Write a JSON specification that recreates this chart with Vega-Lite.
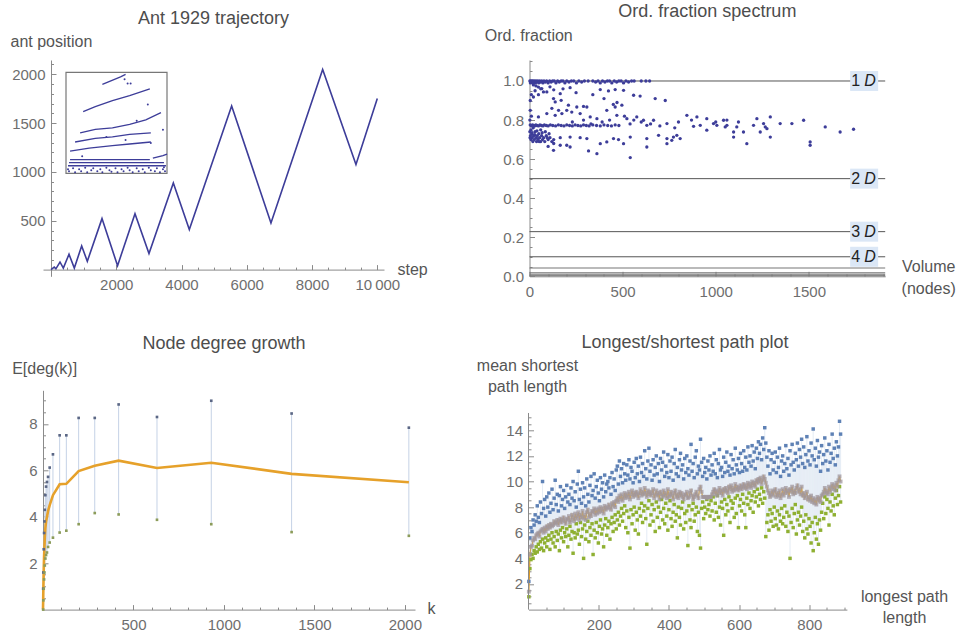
{
  "$schema": "https://vega.github.io/schema/vega-lite/v6.json",
  "background": "white",
  "padding": {"left": 10, "top": 3, "right": 5, "bottom": 5},
  "bounds": "flush",
  "spacing": 330.3,
  "datasets": {
    "ant": [
      {"step": 0, "pos": 0}, {"step": 100, "pos": 25}, {"step": 150, "pos": 8}, {"step": 276, "pos": 78},
      {"step": 378, "pos": 16}, {"step": 552, "pos": 157}, {"step": 715, "pos": 16}, {"step": 940, "pos": 242},
      {"step": 1113, "pos": 85}, {"step": 1563, "pos": 522}, {"step": 2040, "pos": 40}, {"step": 2574, "pos": 573},
      {"step": 3003, "pos": 164}, {"step": 3749, "pos": 887}, {"step": 4239, "pos": 410}, {"step": 5536, "pos": 1676},
      {"step": 6741, "pos": 478}, {"step": 8325, "pos": 2048}, {"step": 9346, "pos": 1075}, {"step": 10000, "pos": 1751}
    ],
    "insetLines": [
      {"seg": "a", "ix": 36, "iy": 88}, {"seg": "a", "ix": 42, "iy": 90.5}, {"seg": "a", "ix": 48, "iy": 93}, {"seg": "a", "ix": 54, "iy": 95.5}, {"seg": "a", "ix": 59, "iy": 98},
      {"seg": "b", "ix": 17, "iy": 61}, {"seg": "b", "ix": 29, "iy": 66}, {"seg": "b", "ix": 46, "iy": 72}, {"seg": "b", "ix": 63, "iy": 77}, {"seg": "b", "ix": 83, "iy": 83.5},
      {"seg": "c", "ix": 14, "iy": 40}, {"seg": "c", "ix": 29, "iy": 43.5}, {"seg": "c", "ix": 46, "iy": 45}, {"seg": "c", "ix": 63, "iy": 48.5}, {"seg": "c", "ix": 79, "iy": 53}, {"seg": "c", "ix": 94, "iy": 60},
      {"seg": "d", "ix": 9, "iy": 31}, {"seg": "d", "ix": 29, "iy": 34.5}, {"seg": "d", "ix": 46, "iy": 36}, {"seg": "d", "ix": 63, "iy": 38.5}, {"seg": "d", "ix": 84, "iy": 40},
      {"seg": "e", "ix": 4, "iy": 22}, {"seg": "e", "ix": 23, "iy": 25}, {"seg": "e", "ix": 46, "iy": 27.5}, {"seg": "e", "ix": 63, "iy": 29}, {"seg": "e", "ix": 84, "iy": 31},
      {"seg": "f", "ix": 86, "iy": 15}, {"seg": "f", "ix": 96, "iy": 17.5}, {"seg": "f", "ix": 100, "iy": 19},
      {"seg": "g", "ix": 4, "iy": 13.5}, {"seg": "g", "ix": 83, "iy": 13.5},
      {"seg": "h", "ix": 3, "iy": 10.5}, {"seg": "h", "ix": 97, "iy": 10.5},
      {"seg": "i", "ix": 2, "iy": 7.5}, {"seg": "i", "ix": 99, "iy": 7.5}
    ],
    "insetDots": [
      {"ix": 58, "iy": 93}, {"ix": 61, "iy": 89}, {"ix": 64, "iy": 89}, {"ix": 81, "iy": 68}, {"ix": 59, "iy": 33},
      {"ix": 84, "iy": 30}, {"ix": 16, "iy": 17}, {"ix": 96, "iy": 43}, {"ix": 70, "iy": 52}, {"ix": 40, "iy": 36},
      {"ix": 3, "iy": 2}, {"ix": 7, "iy": 5}, {"ix": 9, "iy": 1}, {"ix": 13, "iy": 4}, {"ix": 15, "iy": 2},
      {"ix": 19, "iy": 5.5}, {"ix": 21, "iy": 1}, {"ix": 25, "iy": 3}, {"ix": 27, "iy": 5}, {"ix": 31, "iy": 2},
      {"ix": 34, "iy": 4}, {"ix": 36, "iy": 1}, {"ix": 40, "iy": 5.5}, {"ix": 43, "iy": 3}, {"ix": 45, "iy": 1.5},
      {"ix": 49, "iy": 5}, {"ix": 51, "iy": 1}, {"ix": 55, "iy": 4}, {"ix": 57, "iy": 2}, {"ix": 61, "iy": 5.5},
      {"ix": 63, "iy": 3}, {"ix": 66, "iy": 1}, {"ix": 70, "iy": 5}, {"ix": 72, "iy": 2}, {"ix": 76, "iy": 4},
      {"ix": 78, "iy": 1}, {"ix": 82, "iy": 5.5}, {"ix": 84, "iy": 3}, {"ix": 88, "iy": 2}, {"ix": 90, "iy": 5},
      {"ix": 93, "iy": 1}, {"ix": 96, "iy": 4}, {"ix": 98, "iy": 2}, {"ix": 2, "iy": 4}, {"ix": 97, "iy": 6}
    ],
    "dims": [
      {"f": 1, "n": "1"}, {"f": 0.5, "n": "2"}, {"f": 0.2286, "n": "3"}, {"f": 0.1, "n": "4"}
    ],
    "dimsLow": [
      {"f": 0.0426}, {"f": 0.0179}, {"f": 0.0074}, {"f": 0.0029}
    ],
    "ord": [
      {"v": 2, "f": 1}, {"v": 5, "f": 0.99}, {"v": 8, "f": 1}, {"v": 11, "f": 0.995}, {"v": 14, "f": 1}, {"v": 17, "f": 0.99},
      {"v": 20, "f": 1}, {"v": 24, "f": 0.995}, {"v": 28, "f": 1}, {"v": 32, "f": 0.99}, {"v": 36, "f": 1}, {"v": 40, "f": 0.995},
      {"v": 45, "f": 1}, {"v": 50, "f": 0.99}, {"v": 55, "f": 1}, {"v": 60, "f": 0.995}, {"v": 66, "f": 1}, {"v": 72, "f": 0.99},
      {"v": 78, "f": 1}, {"v": 85, "f": 0.995}, {"v": 92, "f": 1}, {"v": 100, "f": 0.99}, {"v": 108, "f": 1}, {"v": 116, "f": 0.995},
      {"v": 124, "f": 1}, {"v": 133, "f": 1}, {"v": 142, "f": 0.99}, {"v": 151, "f": 1}, {"v": 160, "f": 0.995}, {"v": 170, "f": 1},
      {"v": 180, "f": 1}, {"v": 190, "f": 0.99}, {"v": 200, "f": 1}, {"v": 212, "f": 0.995}, {"v": 225, "f": 1}, {"v": 238, "f": 1},
      {"v": 252, "f": 0.99}, {"v": 265, "f": 1}, {"v": 280, "f": 0.995}, {"v": 295, "f": 1}, {"v": 315, "f": 1}, {"v": 340, "f": 1},
      {"v": 355, "f": 0.995}, {"v": 368, "f": 1}, {"v": 380, "f": 0.99}, {"v": 392, "f": 1}, {"v": 405, "f": 0.995}, {"v": 418, "f": 1},
      {"v": 430, "f": 1}, {"v": 442, "f": 0.99}, {"v": 455, "f": 1}, {"v": 468, "f": 0.995}, {"v": 480, "f": 1}, {"v": 492, "f": 1},
      {"v": 505, "f": 0.99}, {"v": 518, "f": 1}, {"v": 532, "f": 0.995}, {"v": 548, "f": 1}, {"v": 562, "f": 1}, {"v": 600, "f": 1},
      {"v": 625, "f": 1}, {"v": 645, "f": 1},
      {"v": 21, "f": 0.98}, {"v": 35, "f": 0.975}, {"v": 48, "f": 0.969}, {"v": 66, "f": 0.961}, {"v": 93, "f": 0.944}, {"v": 30, "f": 0.95},
      {"v": 10, "f": 0.93}, {"v": 4, "f": 0.9}, {"v": 21, "f": 0.918}, {"v": 48, "f": 0.93}, {"v": 218, "f": 0.966}, {"v": 380, "f": 0.956},
      {"v": 424, "f": 0.949}, {"v": 460, "f": 0.956}, {"v": 505, "f": 0.952}, {"v": 165, "f": 0.935}, {"v": 75, "f": 0.944}, {"v": 559, "f": 0.927},
      {"v": 594, "f": 0.923}, {"v": 675, "f": 0.91}, {"v": 729, "f": 0.9}, {"v": 129, "f": 0.91}, {"v": 138, "f": 0.893}, {"v": 170, "f": 0.901},
      {"v": 209, "f": 0.876}, {"v": 156, "f": 0.85}, {"v": 254, "f": 0.867}, {"v": 290, "f": 0.87}, {"v": 308, "f": 0.867}, {"v": 4, "f": 0.85},
      {"v": 2, "f": 0.8}, {"v": 10, "f": 0.82}, {"v": 60, "f": 0.96}, {"v": 110, "f": 0.97}, {"v": 130, "f": 0.955}, {"v": 180, "f": 0.96},
      {"v": 250, "f": 0.94}, {"v": 340, "f": 0.93}, {"v": 400, "f": 0.91}, {"v": 450, "f": 0.88}, {"v": 470, "f": 0.89},
      {"v": 48, "f": 0.816}, {"v": 93, "f": 0.833}, {"v": 138, "f": 0.824}, {"v": 174, "f": 0.833}, {"v": 227, "f": 0.841}, {"v": 272, "f": 0.833},
      {"v": 326, "f": 0.816}, {"v": 362, "f": 0.807}, {"v": 415, "f": 0.85}, {"v": 460, "f": 0.867}, {"v": 496, "f": 0.876}, {"v": 469, "f": 0.824},
      {"v": 523, "f": 0.807}, {"v": 576, "f": 0.816}, {"v": 612, "f": 0.799}, {"v": 630, "f": 0.773}, {"v": 666, "f": 0.799}, {"v": 738, "f": 0.782},
      {"v": 845, "f": 0.824}, {"v": 899, "f": 0.816}, {"v": 952, "f": 0.807}, {"v": 988, "f": 0.782}, {"v": 1042, "f": 0.799}, {"v": 1060, "f": 0.773},
      {"v": 1113, "f": 0.765}, {"v": 1122, "f": 0.79}, {"v": 1221, "f": 0.807}, {"v": 1257, "f": 0.782}, {"v": 1275, "f": 0.756}, {"v": 1293, "f": 0.816},
      {"v": 1346, "f": 0.782}, {"v": 1409, "f": 0.782}, {"v": 1472, "f": 0.799}, {"v": 1588, "f": 0.765}, {"v": 1668, "f": 0.739}, {"v": 1740, "f": 0.753},
      {"v": 881, "f": 0.768}, {"v": 917, "f": 0.773}, {"v": 952, "f": 0.748}, {"v": 1006, "f": 0.773}, {"v": 1051, "f": 0.765}, {"v": 1096, "f": 0.739},
      {"v": 1149, "f": 0.739}, {"v": 1203, "f": 0.773}, {"v": 1239, "f": 0.739}, {"v": 1266, "f": 0.765}, {"v": 1060, "f": 0.8}, {"v": 1000, "f": 0.79},
      {"v": 870, "f": 0.8}, {"v": 800, "f": 0.79}, {"v": 780, "f": 0.76}, {"v": 700, "f": 0.77}, {"v": 560, "f": 0.8}, {"v": 540, "f": 0.78},
      {"v": 600, "f": 0.79}, {"v": 650, "f": 0.78}, {"v": 120, "f": 0.86}, {"v": 200, "f": 0.85}, {"v": 290, "f": 0.8}, {"v": 390, "f": 0.79},
      {"v": 430, "f": 0.8}, {"v": 510, "f": 0.82}, {"v": 230, "f": 0.79}, {"v": 330, "f": 0.78},
      {"v": 4, "f": 0.775}, {"v": 10, "f": 0.77}, {"v": 16, "f": 0.775}, {"v": 22, "f": 0.772}, {"v": 28, "f": 0.77}, {"v": 34, "f": 0.775},
      {"v": 40, "f": 0.772}, {"v": 48, "f": 0.77}, {"v": 56, "f": 0.775}, {"v": 64, "f": 0.772}, {"v": 72, "f": 0.77}, {"v": 80, "f": 0.775},
      {"v": 90, "f": 0.772}, {"v": 100, "f": 0.77}, {"v": 112, "f": 0.775}, {"v": 125, "f": 0.772}, {"v": 140, "f": 0.77}, {"v": 155, "f": 0.775},
      {"v": 170, "f": 0.772}, {"v": 185, "f": 0.77}, {"v": 200, "f": 0.775}, {"v": 215, "f": 0.772}, {"v": 230, "f": 0.77}, {"v": 245, "f": 0.775},
      {"v": 260, "f": 0.772}, {"v": 275, "f": 0.77}, {"v": 290, "f": 0.775}, {"v": 305, "f": 0.772}, {"v": 320, "f": 0.77}, {"v": 340, "f": 0.775},
      {"v": 360, "f": 0.772}, {"v": 380, "f": 0.77}, {"v": 400, "f": 0.775}, {"v": 420, "f": 0.772}, {"v": 440, "f": 0.77}, {"v": 460, "f": 0.775},
      {"v": 480, "f": 0.772},
      {"v": 2, "f": 0.74}, {"v": 5, "f": 0.72}, {"v": 8, "f": 0.7}, {"v": 12, "f": 0.73}, {"v": 15, "f": 0.71}, {"v": 18, "f": 0.69},
      {"v": 22, "f": 0.72}, {"v": 26, "f": 0.7}, {"v": 30, "f": 0.74}, {"v": 34, "f": 0.71}, {"v": 38, "f": 0.69}, {"v": 42, "f": 0.72},
      {"v": 46, "f": 0.7}, {"v": 50, "f": 0.73}, {"v": 55, "f": 0.71}, {"v": 60, "f": 0.69}, {"v": 65, "f": 0.72}, {"v": 70, "f": 0.7},
      {"v": 76, "f": 0.71}, {"v": 82, "f": 0.69}, {"v": 90, "f": 0.72}, {"v": 100, "f": 0.7}, {"v": 110, "f": 0.71}, {"v": 120, "f": 0.69},
      {"v": 130, "f": 0.7}, {"v": 8, "f": 0.75}, {"v": 20, "f": 0.76}, {"v": 40, "f": 0.745}, {"v": 60, "f": 0.75}, {"v": 85, "f": 0.74},
      {"v": 3, "f": 0.71}, {"v": 14, "f": 0.735}, {"v": 28, "f": 0.725}, {"v": 44, "f": 0.705}, {"v": 52, "f": 0.69}, {"v": 68, "f": 0.735},
      {"v": 95, "f": 0.71}, {"v": 105, "f": 0.73},
      {"v": 165, "f": 0.71}, {"v": 218, "f": 0.713}, {"v": 272, "f": 0.71}, {"v": 308, "f": 0.705}, {"v": 380, "f": 0.679}, {"v": 415, "f": 0.688},
      {"v": 451, "f": 0.705}, {"v": 478, "f": 0.7}, {"v": 505, "f": 0.679}, {"v": 541, "f": 0.713}, {"v": 630, "f": 0.705}, {"v": 693, "f": 0.722},
      {"v": 738, "f": 0.705}, {"v": 773, "f": 0.713}, {"v": 809, "f": 0.705}, {"v": 1096, "f": 0.713}, {"v": 1167, "f": 0.679}, {"v": 1293, "f": 0.713},
      {"v": 1507, "f": 0.688}, {"v": 1507, "f": 0.671},
      {"v": 129, "f": 0.645}, {"v": 165, "f": 0.671}, {"v": 200, "f": 0.671}, {"v": 218, "f": 0.662}, {"v": 317, "f": 0.642}, {"v": 362, "f": 0.628},
      {"v": 541, "f": 0.608}, {"v": 630, "f": 0.662}, {"v": 738, "f": 0.679}, {"v": 764, "f": 0.696}, {"v": 791, "f": 0.722}, {"v": 130, "f": 0.68},
      {"v": 100, "f": 0.665}
    ],
    "deg": [
      {"k": 0, "mean": 0},
      {"k": 1, "hi": 0.9, "lo": 0, "mean": 0.4},
      {"k": 2, "hi": 1.6, "lo": 0.4, "mean": 0.9},
      {"k": 4, "hi": 2.6, "lo": 0.9, "mean": 1.7},
      {"k": 6, "hi": 3.3, "lo": 1.3, "mean": 2.3},
      {"k": 8, "hi": 3.8, "lo": 1.6, "mean": 2.7},
      {"k": 10, "hi": 4.3, "lo": 1.9, "mean": 3.1},
      {"k": 13, "hi": 4.93, "lo": 2.2, "mean": 3.5},
      {"k": 17, "hi": 5.3, "lo": 2.35, "mean": 3.8},
      {"k": 22, "hi": 5.5, "lo": 2.46, "mean": 4.0},
      {"k": 28, "hi": 5.72, "lo": 2.7, "mean": 4.25},
      {"k": 37, "hi": 6.12, "lo": 2.89, "mean": 4.5},
      {"k": 55, "hi": 6.69, "lo": 3.1, "mean": 4.93},
      {"k": 92, "hi": 7.51, "lo": 3.32, "mean": 5.4},
      {"k": 129, "hi": 7.51, "lo": 3.4, "mean": 5.42},
      {"k": 197, "hi": 8.26, "lo": 3.68, "mean": 5.97},
      {"k": 286, "hi": 8.26, "lo": 4.16, "mean": 6.2},
      {"k": 418, "hi": 8.84, "lo": 4.1, "mean": 6.42},
      {"k": 630, "hi": 8.3, "lo": 3.87, "mean": 6.1},
      {"k": 930, "hi": 9.0, "lo": 3.68, "mean": 6.33},
      {"k": 1374, "hi": 8.45, "lo": 3.34, "mean": 5.85},
      {"k": 2022, "hi": 7.84, "lo": 3.18, "mean": 5.49}
    ],
    "paths": [
      {"L":1,"h":2.2,"m":1.4,"l":1.0},{"L":4,"h":5.6,"m":4.3,"l":3.2},{"L":7,"h":6.4,"m":4.9,"l":3.9},{"L":10,"h":6.1,"m":5.0,"l":4.3},
      {"L":13,"h":7.0,"m":5.4,"l":4.0},{"L":16,"h":6.6,"m":5.6,"l":4.6},{"L":19,"h":7.4,"m":5.5,"l":4.4},{"L":22,"h":6.9,"m":5.8,"l":4.9},
      {"L":25,"h":8.1,"m":5.9,"l":4.5},{"L":28,"h":7.2,"m":6.0,"l":5.1},{"L":31,"h":6.8,"m":5.7,"l":4.7},{"L":34,"h":8.4,"m":6.1,"l":5.3},
      {"L":37,"h":7.5,"m":6.2,"l":4.8},{"L":40,"h":10.0,"m":6.3,"l":5.5},{"L":43,"h":7.9,"m":6.0,"l":4.6},{"L":46,"h":8.6,"m":6.4,"l":5.2},
      {"L":49,"h":7.3,"m":6.1,"l":5.6},{"L":52,"h":8.8,"m":6.5,"l":4.9},{"L":55,"h":8.0,"m":6.3,"l":5.4},{"L":58,"h":9.1,"m":6.6,"l":5.8},
      {"L":61,"h":7.6,"m":6.4,"l":4.7},{"L":64,"h":8.3,"m":6.7,"l":5.5},{"L":67,"h":9.4,"m":6.5,"l":6.0},{"L":70,"h":7.8,"m":6.6,"l":5.2},
      {"L":73,"h":8.7,"m":6.9,"l":5.7},{"L":76,"h":10.1,"m":6.7,"l":4.9},{"L":79,"h":8.2,"m":6.8,"l":6.1},{"L":82,"h":9.0,"m":7.0,"l":5.4},
      {"L":85,"h":7.7,"m":6.6,"l":5.9},{"L":88,"h":8.9,"m":6.9,"l":4.6},{"L":91,"h":9.6,"m":7.1,"l":6.2},{"L":94,"h":8.1,"m":6.8,"l":5.6},
      {"L":97,"h":8.6,"m":7.0,"l":6.4},{"L":100,"h":9.3,"m":7.2,"l":5.3},{"L":103,"h":7.9,"m":6.9,"l":6.0},{"L":106,"h":8.8,"m":6.7,"l":5.7},
      {"L":109,"h":9.7,"m":7.1,"l":6.3},{"L":112,"h":8.4,"m":7.0,"l":4.9},{"L":115,"h":9.0,"m":7.3,"l":5.8},{"L":118,"h":8.2,"m":6.8,"l":6.5},
      {"L":121,"h":9.5,"m":7.0,"l":5.5},{"L":124,"h":8.7,"m":7.4,"l":6.1},{"L":127,"h":10.0,"m":7.2,"l":4.4},{"L":130,"h":8.5,"m":6.9,"l":6.0},
      {"L":133,"h":9.2,"m":7.5,"l":5.6},{"L":136,"h":8.0,"m":7.1,"l":6.7},{"L":139,"h":9.8,"m":7.3,"l":5.9},{"L":142,"h":10.8,"m":7.6,"l":6.2},
      {"L":145,"h":8.6,"m":7.0,"l":5.1},{"L":148,"h":9.4,"m":7.4,"l":6.8},{"L":151,"h":8.3,"m":7.2,"l":5.7},{"L":154,"h":9.9,"m":7.7,"l":6.3},
      {"L":157,"h":8.8,"m":7.1,"l":4.0},{"L":160,"h":9.5,"m":7.4,"l":6.6},{"L":163,"h":8.1,"m":7.0,"l":5.5},{"L":166,"h":10.2,"m":7.6,"l":6.1},
      {"L":169,"h":9.0,"m":7.8,"l":6.9},{"L":172,"h":8.4,"m":7.2,"l":5.3},{"L":175,"h":9.7,"m":7.5,"l":6.4},{"L":178,"h":10.4,"m":7.3,"l":5.8},
      {"L":181,"h":8.9,"m":7.7,"l":6.7},{"L":184,"h":9.3,"m":7.6,"l":4.3},{"L":187,"h":10.6,"m":7.9,"l":6.2},{"L":190,"h":8.7,"m":7.4,"l":5.6},
      {"L":193,"h":9.6,"m":7.8,"l":6.8},{"L":196,"h":10.1,"m":7.5,"l":6.0},{"L":199,"h":9.1,"m":7.9,"l":5.2},{"L":202,"h":8.5,"m":7.6,"l":6.5},
      {"L":205,"h":10.3,"m":8.0,"l":7.0},{"L":208,"h":9.4,"m":7.7,"l":5.9},{"L":211,"h":9.9,"m":7.9,"l":6.3},{"L":214,"h":8.8,"m":7.5,"l":4.9},
      {"L":217,"h":10.5,"m":8.1,"l":6.6},{"L":220,"h":9.2,"m":7.8,"l":7.1},{"L":223,"h":9.8,"m":8.0,"l":5.8},{"L":226,"h":10.0,"m":7.9,"l":6.4},
      {"L":229,"h":9.5,"m":8.2,"l":6.9},{"L":232,"h":10.3,"m":8.0,"l":5.5},{"L":235,"h":9.0,"m":7.8,"l":6.7},{"L":238,"h":10.7,"m":8.3,"l":7.2},
      {"L":241,"h":9.6,"m":8.1,"l":6.1},{"L":244,"h":10.2,"m":8.4,"l":6.8},{"L":247,"h":9.3,"m":8.0,"l":7.4},{"L":250,"h":10.9,"m":8.5,"l":6.3},
      {"L":253,"h":11.2,"m":8.7,"l":7.0},{"L":256,"h":9.8,"m":8.4,"l":7.6},{"L":259,"h":11.6,"m":8.9,"l":6.6},{"L":262,"h":10.4,"m":8.6,"l":7.3},
      {"L":265,"h":11.0,"m":9.0,"l":7.9},{"L":268,"h":9.9,"m":8.5,"l":6.9},{"L":271,"h":11.4,"m":8.8,"l":7.5},{"L":274,"h":10.6,"m":9.1,"l":8.1},
      {"L":277,"h":10.1,"m":8.7,"l":6.4},{"L":280,"h":11.3,"m":9.0,"l":7.7},{"L":283,"h":10.5,"m":8.8,"l":6.0},{"L":286,"h":11.7,"m":9.2,"l":7.2},
      {"L":289,"h":10.2,"m":8.6,"l":4.8},{"L":292,"h":11.1,"m":9.0,"l":7.8},{"L":295,"h":10.8,"m":9.3,"l":6.7},{"L":298,"h":9.9,"m":8.8,"l":7.4},
      {"L":301,"h":11.5,"m":9.1,"l":8.0},{"L":304,"h":10.3,"m":8.9,"l":6.2},{"L":307,"h":11.8,"m":9.2,"l":7.6},{"L":310,"h":10.6,"m":9.0,"l":7.0},
      {"L":313,"h":11.2,"m":8.7,"l":5.9},{"L":316,"h":10.0,"m":9.1,"l":7.9},{"L":319,"h":11.9,"m":9.4,"l":7.3},{"L":322,"h":10.7,"m":8.9,"l":8.3},
      {"L":325,"h":11.4,"m":9.2,"l":6.8},{"L":328,"h":10.4,"m":9.0,"l":7.7},{"L":331,"h":12.4,"m":9.5,"l":8.1},{"L":334,"h":11.0,"m":9.1,"l":7.1},
      {"L":337,"h":10.2,"m":8.8,"l":5.1},{"L":340,"h":11.6,"m":9.3,"l":7.9},{"L":343,"h":12.6,"m":9.0,"l":8.5},{"L":346,"h":10.8,"m":9.2,"l":6.6},
      {"L":349,"h":11.3,"m":8.9,"l":7.4},{"L":352,"h":10.1,"m":9.1,"l":8.2},{"L":355,"h":11.7,"m":9.4,"l":6.9},{"L":358,"h":10.5,"m":8.7,"l":7.8},
      {"L":361,"h":11.1,"m":9.0,"l":6.1},{"L":364,"h":12.0,"m":9.3,"l":8.4},{"L":367,"h":10.6,"m":8.9,"l":7.2},{"L":370,"h":11.4,"m":9.1,"l":8.0},
      {"L":373,"h":10.0,"m":8.6,"l":6.4},{"L":376,"h":11.8,"m":9.2,"l":7.6},{"L":379,"h":10.9,"m":9.0,"l":8.6},{"L":382,"h":11.5,"m":8.8,"l":7.0},
      {"L":385,"h":12.3,"m":9.3,"l":7.9},{"L":388,"h":10.4,"m":8.9,"l":6.7},{"L":391,"h":11.2,"m":9.1,"l":8.3},{"L":394,"h":10.7,"m":8.7,"l":7.3},
      {"L":397,"h":12.1,"m":9.4,"l":6.2},{"L":400,"h":10.3,"m":8.8,"l":7.8},{"L":403,"h":11.6,"m":9.0,"l":8.5},{"L":406,"h":10.8,"m":9.2,"l":7.1},
      {"L":409,"h":11.9,"m":8.9,"l":6.5},{"L":412,"h":10.1,"m":8.6,"l":7.6},{"L":415,"h":11.4,"m":9.1,"l":8.2},{"L":418,"h":12.5,"m":9.3,"l":6.9},
      {"L":421,"h":10.6,"m":8.8,"l":7.4},{"L":424,"h":11.1,"m":9.0,"l":5.6},{"L":427,"h":10.4,"m":8.7,"l":8.0},{"L":430,"h":11.7,"m":9.2,"l":7.2},
      {"L":433,"h":12.2,"m":8.9,"l":6.6},{"L":436,"h":10.9,"m":9.1,"l":7.9},{"L":439,"h":11.3,"m":8.8,"l":8.4},{"L":442,"h":10.2,"m":8.6,"l":6.3},
      {"L":445,"h":11.8,"m":9.0,"l":7.5},{"L":448,"h":10.7,"m":8.9,"l":6.8},{"L":451,"h":12.0,"m":9.2,"l":7.7},{"L":454,"h":11.0,"m":8.7,"l":5.0},
      {"L":457,"h":10.5,"m":8.8,"l":8.1},{"L":460,"h":11.6,"m":9.1,"l":7.0},{"L":463,"h":12.9,"m":9.3,"l":6.4},{"L":466,"h":10.8,"m":8.9,"l":7.8},
      {"L":469,"h":11.4,"m":8.6,"l":8.3},{"L":472,"h":10.3,"m":8.8,"l":6.9},{"L":475,"h":11.9,"m":9.0,"l":7.4},{"L":478,"h":12.4,"m":9.2,"l":8.0},
      {"L":481,"h":10.6,"m":8.9,"l":6.1},{"L":484,"h":11.2,"m":8.7,"l":7.6},{"L":487,"h":10.9,"m":9.4,"l":5.8},{"L":490,"h":13.3,"m":9.6,"l":4.8},
      {"L":493,"h":11.5,"m":9.2,"l":7.9},{"L":496,"h":10.4,"m":8.8,"l":8.4},{"L":499,"h":11.8,"m":8.8,"l":7.1},{"L":502,"h":10.7,"m":8.8,"l":8.0},
      {"L":505,"h":11.1,"m":8.8,"l":7.5},{"L":508,"h":10.2,"m":8.7,"l":8.6},{"L":511,"h":11.6,"m":8.8,"l":7.8},{"L":514,"h":10.9,"m":8.8,"l":8.2},
      {"L":517,"h":12.0,"m":8.8,"l":7.3},{"L":520,"h":10.5,"m":8.8,"l":8.5},{"L":523,"h":11.3,"m":9.0,"l":7.7},{"L":526,"h":10.8,"m":9.2,"l":8.8},
      {"L":529,"h":12.2,"m":9.4,"l":7.0},{"L":532,"h":10.6,"m":9.0,"l":8.3},{"L":535,"h":11.7,"m":9.3,"l":7.6},{"L":538,"h":10.3,"m":8.9,"l":8.9},
      {"L":541,"h":11.4,"m":9.2,"l":7.2},{"L":544,"h":12.5,"m":9.5,"l":8.0},{"L":547,"h":10.9,"m":9.1,"l":6.6},{"L":550,"h":11.1,"m":9.3,"l":8.4},
      {"L":553,"h":10.4,"m":8.9,"l":7.9},{"L":556,"h":11.9,"m":9.4,"l":5.8},{"L":559,"h":10.7,"m":9.2,"l":8.6},{"L":562,"h":11.5,"m":9.5,"l":7.4},
      {"L":565,"h":12.3,"m":9.3,"l":8.2},{"L":568,"h":10.8,"m":9.1,"l":7.7},{"L":571,"h":11.2,"m":9.6,"l":8.8},{"L":574,"h":10.5,"m":9.4,"l":6.8},
      {"L":577,"h":12.1,"m":9.7,"l":8.5},{"L":580,"h":11.0,"m":9.2,"l":7.9},{"L":583,"h":11.7,"m":9.5,"l":8.3},{"L":586,"h":10.6,"m":9.3,"l":7.2},
      {"L":589,"h":12.6,"m":9.8,"l":8.7},{"L":592,"h":11.3,"m":9.4,"l":7.5},{"L":595,"h":10.9,"m":9.6,"l":8.9},{"L":598,"h":11.8,"m":9.3,"l":6.4},
      {"L":601,"h":10.7,"m":9.5,"l":8.1},{"L":604,"h":12.2,"m":9.7,"l":8.6},{"L":607,"h":11.4,"m":9.4,"l":7.7},{"L":610,"h":10.8,"m":9.6,"l":9.0},
      {"L":613,"h":12.4,"m":9.8,"l":8.3},{"L":616,"h":11.1,"m":9.5,"l":7.4},{"L":619,"h":11.9,"m":9.7,"l":6.4},{"L":622,"h":10.9,"m":9.4,"l":8.7},
      {"L":625,"h":12.7,"m":9.9,"l":8.2},{"L":628,"h":11.5,"m":9.6,"l":9.1},{"L":631,"h":12.0,"m":9.8,"l":7.9},{"L":634,"h":11.2,"m":9.5,"l":8.5},
      {"L":637,"h":12.8,"m":10.0,"l":8.9},{"L":640,"h":11.6,"m":9.7,"l":7.6},{"L":643,"h":12.3,"m":9.9,"l":9.2},{"L":646,"h":11.0,"m":9.6,"l":8.4},
      {"L":649,"h":12.6,"m":10.1,"l":8.8},{"L":652,"h":11.8,"m":9.9,"l":9.4},{"L":655,"h":13.1,"m":10.2,"l":8.1},{"L":658,"h":12.2,"m":10.0,"l":9.0},
      {"L":661,"h":12.9,"m":10.3,"l":8.6},{"L":664,"h":11.7,"m":9.8,"l":9.5},{"L":667,"h":13.4,"m":10.1,"l":8.3},{"L":670,"h":12.5,"m":10.4,"l":9.2},
      {"L":673,"h":14.2,"m":10.2,"l":8.7},{"L":676,"h":13.0,"m":9.9,"l":5.7},{"L":679,"h":11.9,"m":9.6,"l":6.8},{"L":682,"h":11.2,"m":9.3,"l":7.4},
      {"L":685,"h":12.4,"m":9.1,"l":6.2},{"L":688,"h":10.6,"m":8.8,"l":7.8},{"L":691,"h":11.7,"m":9.0,"l":6.9},{"L":694,"h":12.2,"m":9.3,"l":7.5},
      {"L":697,"h":10.9,"m":8.9,"l":6.5},{"L":700,"h":11.5,"m":9.2,"l":8.0},{"L":703,"h":12.3,"m":9.4,"l":7.1},{"L":706,"h":10.7,"m":8.8,"l":6.6},
      {"L":709,"h":11.9,"m":9.1,"l":7.7},{"L":712,"h":11.1,"m":8.9,"l":6.3},{"L":715,"h":12.6,"m":9.3,"l":7.4},{"L":718,"h":10.4,"m":8.7,"l":6.9},
      {"L":721,"h":11.6,"m":9.0,"l":7.9},{"L":724,"h":12.0,"m":9.4,"l":6.7},{"L":727,"h":10.8,"m":8.9,"l":7.2},{"L":730,"h":11.4,"m":9.2,"l":8.1},
      {"L":733,"h":12.8,"m":9.5,"l":6.5},{"L":736,"h":11.0,"m":9.1,"l":7.6},{"L":739,"h":11.8,"m":9.3,"l":6.1},{"L":742,"h":10.5,"m":8.8,"l":7.3},
      {"L":745,"h":12.4,"m":9.4,"l":4.0},{"L":748,"h":11.3,"m":9.2,"l":6.8},{"L":751,"h":12.9,"m":9.6,"l":7.9},{"L":754,"h":11.5,"m":9.0,"l":6.4},
      {"L":757,"h":10.9,"m":9.3,"l":7.5},{"L":760,"h":12.2,"m":9.1,"l":8.2},{"L":763,"h":11.7,"m":9.5,"l":5.9},{"L":766,"h":13.0,"m":9.7,"l":7.0},
      {"L":769,"h":11.2,"m":9.2,"l":7.6},{"L":772,"h":12.5,"m":9.4,"l":6.6},{"L":775,"h":11.9,"m":9.0,"l":7.3},{"L":778,"h":13.3,"m":9.6,"l":8.0},
      {"L":781,"h":11.4,"m":8.9,"l":6.1},{"L":784,"h":12.7,"m":9.1,"l":6.9},{"L":787,"h":11.1,"m":8.7,"l":5.6},{"L":790,"h":12.1,"m":8.9,"l":7.4},
      {"L":793,"h":13.5,"m":9.2,"l":6.3},{"L":796,"h":11.6,"m":8.6,"l":5.9},{"L":799,"h":12.4,"m":8.8,"l":7.1},{"L":802,"h":11.3,"m":8.5,"l":6.5},
      {"L":805,"h":13.0,"m":8.9,"l":5.2},{"L":808,"h":12.0,"m":8.4,"l":6.8},{"L":811,"h":14.1,"m":8.7,"l":4.6},{"L":814,"h":11.7,"m":8.3,"l":6.0},
      {"L":817,"h":12.6,"m":8.6,"l":7.2},{"L":820,"h":11.2,"m":8.2,"l":5.5},{"L":823,"h":13.2,"m":8.8,"l":6.7},{"L":826,"h":11.9,"m":8.5,"l":5.1},
      {"L":829,"h":12.3,"m":8.7,"l":7.0},{"L":832,"h":10.8,"m":8.4,"l":6.2},{"L":835,"h":12.8,"m":8.9,"l":7.6},{"L":838,"h":11.4,"m":9.0,"l":8.3},
      {"L":841,"h":12.1,"m":9.2,"l":7.1},{"L":844,"h":13.4,"m":9.5,"l":8.8},{"L":847,"h":11.6,"m":9.1,"l":7.5},{"L":850,"h":12.4,"m":9.3,"l":8.6},
      {"L":853,"h":10.9,"m":9.0,"l":7.9},{"L":856,"h":12.9,"m":9.6,"l":6.6},{"L":859,"h":11.5,"m":9.2,"l":8.4},{"L":862,"h":12.2,"m":9.5,"l":7.7},
      {"L":865,"h":13.7,"m":9.8,"l":9.0},{"L":868,"h":11.8,"m":9.4,"l":8.1},{"L":871,"h":12.6,"m":9.7,"l":7.4},{"L":874,"h":11.3,"m":9.3,"l":8.7},
      {"L":877,"h":13.1,"m":9.9,"l":9.3},{"L":880,"h":12.0,"m":9.6,"l":8.2},{"L":883,"h":12.7,"m":10.1,"l":8.9},{"L":886,"h":14.7,"m":10.4,"l":9.6},
      {"L":889,"h":13.7,"m":10.0,"l":8.4}
    ]
  },
  "vconcat": [
    {
      "bounds": "flush",
      "spacing": 145.5,
      "hconcat": [
        {
          "width": 341,
          "height": 216.3,
          "title": {"text": "Ant 1929 trajectory", "offset": 6},
          "resolve": {"scale": {"x": "independent", "y": "independent"}},
          "layer": [
            {
              "data": {"name": "ant"},
              "mark": {"type": "line", "color": "#3d3d99", "strokeWidth": 1.6},
              "encoding": {
                "x": {
                  "field": "step", "type": "quantitative", "title": "step",
                  "scale": {"domain": [-245, 10205], "nice": false, "zero": false},
                  "axis": {
                    "offset": -6.7, "labelOverlap": false, "labelFlush": false,
                    "values": [500, 1000, 1500, 2000, 2500, 3000, 3500, 4000, 4500, 5000, 5500, 6000, 6500, 7000, 7500, 8000, 8500, 9000, 9500, 10000],
                    "labelExpr": "datum.value % 2000 == 0 ? (datum.value == 10000 ? '10\u2009000' : format(datum.value, 'd')) : ''",
                    "tickSize": {"condition": {"test": "datum.value % 2000 == 0", "value": -5}, "value": -2.5},
                    "titleX": 354, "titleY": 4.7, "titleAlign": "left", "titleBaseline": "alphabetic"
                  }
                },
                "y": {
                  "field": "pos", "type": "quantitative", "title": "ant position",
                  "scale": {"domain": [-68.6, 2146], "nice": false, "zero": false},
                  "axis": {
                    "offset": -8, "labelOverlap": false,
                    "values": [100, 200, 300, 400, 500, 600, 700, 800, 900, 1000, 1100, 1200, 1300, 1400, 1500, 1600, 1700, 1800, 1900, 2000, 2100],
                    "labelExpr": "datum.value % 500 == 0 ? format(datum.value, 'd') : ''",
                    "tickSize": {"condition": {"test": "datum.value % 500 == 0", "value": -5}, "value": -2.5},
                    "titleX": -41, "titleY": -13.2, "titleAlign": "left", "titleBaseline": "alphabetic"
                  }
                }
              }
            },
            {
              "data": {"values": [{}]},
              "mark": {"type": "rect", "fill": "white", "stroke": "#777777", "strokeWidth": 1.2},
              "encoding": {
                "x": {"datum": 0, "type": "quantitative", "scale": {"domain": [0, 100], "range": [23, 124], "nice": false}, "axis": null},
                "x2": {"datum": 100},
                "y": {"datum": 0, "type": "quantitative", "scale": {"domain": [0, 100], "range": [113.3, 12.3], "nice": false}, "axis": null},
                "y2": {"datum": 100}
              }
            },
            {
              "data": {"name": "insetLines"},
              "mark": {"type": "line", "color": "#3d3d99", "strokeWidth": 1.3},
              "encoding": {
                "x": {"field": "ix", "type": "quantitative", "scale": {"domain": [0, 100], "range": [23, 124], "nice": false}, "axis": null},
                "y": {"field": "iy", "type": "quantitative", "scale": {"domain": [0, 100], "range": [113.3, 12.3], "nice": false}, "axis": null},
                "detail": {"field": "seg"}
              }
            },
            {
              "data": {"name": "insetDots"},
              "mark": {"type": "point", "filled": true, "size": 4, "color": "#3d3d99", "opacity": 1},
              "encoding": {
                "x": {"field": "ix", "type": "quantitative", "scale": {"domain": [0, 100], "range": [23, 124], "nice": false}, "axis": null},
                "y": {"field": "iy", "type": "quantitative", "scale": {"domain": [0, 100], "range": [113.3, 12.3], "nice": false}, "axis": null}
              }
            }
          ]
        },
        {
          "width": 355.7,
          "height": 216.3,
          "title": {"text": "Ord. fraction spectrum", "offset": 6},
          "resolve": {"axis": {"x": "independent", "y": "independent"}},
          "layer": [
            {
              "data": {"name": "dims"},
              "mark": {"type": "rule", "color": "#555555", "strokeWidth": 1},
              "encoding": {
                "y": {
                  "field": "f", "type": "quantitative", "title": "Ord. fraction",
                  "scale": {"domain": [0, 1.1075], "nice": false},
                  "axis": {
                    "labelOverlap": false,
                    "values": [0, 0.05, 0.1, 0.15, 0.2, 0.25, 0.3, 0.35, 0.4, 0.45, 0.5, 0.55, 0.6, 0.65, 0.7, 0.75, 0.8, 0.85, 0.9, 0.95, 1, 1.05, 1.1],
                    "labelExpr": "abs(datum.value * 5 - round(datum.value * 5)) < 0.001 ? format(datum.value, '.1f') : ''",
                    "tickSize": {"condition": {"test": "abs(datum.value * 5 - round(datum.value * 5)) < 0.001", "value": -5}, "value": -2.5},
                    "titleX": -45.3, "titleY": -19.7, "titleAlign": "left", "titleBaseline": "alphabetic"
                  }
                }
              }
            },
            {
              "data": {"name": "dimsLow"},
              "mark": {"type": "rule", "color": "#777777", "strokeWidth": 1.2},
              "encoding": {"y": {"field": "f", "type": "quantitative", "axis": null}}
            },
            {
              "data": {"name": "ord"},
              "mark": {"type": "point", "filled": true, "size": 11, "color": "#3d3d99", "opacity": 1},
              "encoding": {
                "x": {
                  "field": "v", "type": "quantitative", "title": ["Volume", "(nodes)"],
                  "scale": {"domain": [0, 1910], "nice": false},
                  "axis": {
                    "labelOverlap": false, "labelFlush": false,
                    "values": [0, 100, 200, 300, 400, 500, 600, 700, 800, 900, 1000, 1100, 1200, 1300, 1400, 1500, 1600, 1700, 1800, 1900],
                    "labelExpr": "datum.value % 500 == 0 ? format(datum.value, 'd') : ''",
                    "tickSize": {"condition": {"test": "datum.value % 500 == 0", "value": -5}, "value": -2.5},
                    "titleX": 398.7, "titleY": -5, "titleAlign": "center", "titleBaseline": "alphabetic", "titleLineHeight": 22
                  }
                },
                "y": {"field": "f", "type": "quantitative", "axis": null}
              }
            },
            {
              "data": {"name": "dims"},
              "mark": {"type": "point", "shape": "M-1.4,-1H1.4V1H-1.4Z", "filled": true, "size": 400, "color": "#dbe7f6", "opacity": 1},
              "encoding": {
                "x": {"datum": 1797, "type": "quantitative", "axis": null},
                "y": {"field": "f", "type": "quantitative", "axis": null}
              }
            },
            {
              "data": {"name": "dims"},
              "mark": {"type": "text", "align": "right", "baseline": "middle", "dx": -4, "fontSize": 16, "color": "#222222"},
              "encoding": {
                "x": {"datum": 1797, "type": "quantitative", "axis": null},
                "y": {"field": "f", "type": "quantitative", "axis": null},
                "text": {"field": "n"}
              }
            },
            {
              "data": {"name": "dims"},
              "mark": {"type": "text", "align": "left", "baseline": "middle", "dx": 0, "fontSize": 16, "fontStyle": "italic", "color": "#222222", "text": "D"},
              "encoding": {
                "x": {"datum": 1797, "type": "quantitative", "axis": null},
                "y": {"field": "f", "type": "quantitative", "axis": null}
              }
            }
          ]
        }
      ]
    },
    {
      "bounds": "flush",
      "spacing": 113.5,
      "hconcat": [
        {
          "width": 372,
          "height": 219.3,
          "title": {"text": "Node degree growth", "offset": 7, "dx": -5},
          "data": {"name": "deg"},
          "resolve": {"axis": {"x": "independent", "y": "independent"}},
          "layer": [
            {
              "mark": {"type": "rule", "color": "#c5d2e6", "strokeWidth": 1},
              "encoding": {
                "x": {
                  "field": "k", "type": "quantitative", "title": "k",
                  "scale": {"domain": [0, 2056], "nice": false},
                  "axis": {
                    "labelOverlap": false, "labelFlush": false,
                    "values": [100, 200, 300, 400, 500, 600, 700, 800, 900, 1000, 1100, 1200, 1300, 1400, 1500, 1600, 1700, 1800, 1900, 2000],
                    "labelExpr": "datum.value % 500 == 0 ? format(datum.value, 'd') : ''",
                    "tickSize": {"condition": {"test": "datum.value % 500 == 0", "value": -5}, "value": -2.5},
                    "titleX": 384, "titleY": 3.4, "titleAlign": "left", "titleBaseline": "alphabetic"
                  }
                },
                "y": {
                  "field": "lo", "type": "quantitative", "title": "E[deg(k)]",
                  "scale": {"domain": [0, 9.45], "nice": false},
                  "axis": {
                    "labelOverlap": false,
                    "values": [0.5, 1, 1.5, 2, 2.5, 3, 3.5, 4, 4.5, 5, 5.5, 6, 6.5, 7, 7.5, 8, 8.5, 9],
                    "labelExpr": "datum.value % 2 == 0 ? format(datum.value, 'd') : ''",
                    "tickSize": {"condition": {"test": "datum.value % 2 == 0", "value": -5}, "value": -2.5},
                    "titleX": -31.3, "titleY": -17.3, "titleAlign": "left", "titleBaseline": "alphabetic"
                  }
                },
                "y2": {"field": "hi"}
              }
            },
            {
              "mark": {"type": "line", "color": "#e6a12a", "strokeWidth": 2.6},
              "encoding": {
                "x": {"field": "k", "type": "quantitative", "axis": null},
                "y": {"field": "mean", "type": "quantitative", "axis": null}
              }
            },
            {
              "mark": {"type": "square", "size": 7, "color": "#5b6785", "opacity": 1},
              "encoding": {
                "x": {"field": "k", "type": "quantitative", "axis": null},
                "y": {"field": "hi", "type": "quantitative", "axis": null}
              }
            },
            {
              "mark": {"type": "square", "size": 7, "color": "#8c9c5a", "opacity": 1},
              "encoding": {
                "x": {"field": "k", "type": "quantitative", "axis": null},
                "y": {"field": "lo", "type": "quantitative", "axis": null}
              }
            }
          ]
        },
        {
          "width": 318.4,
          "height": 219.3,
          "title": {"text": "Longest/shortest path plot", "offset": 5, "dx": -2.7},
          "resolve": {"axis": {"x": "independent", "y": "independent"}},
          "layer": [
            {
              "data": {"name": "paths"},
              "mark": {"type": "line", "color": "#e19c24", "strokeWidth": 1.3},
              "encoding": {
                "x": {
                  "field": "L", "type": "quantitative", "title": ["longest path", "length"],
                  "scale": {"domain": [0, 907], "nice": false},
                  "axis": {
                    "labelOverlap": false, "labelFlush": false,
                    "values": [50, 100, 150, 200, 250, 300, 350, 400, 450, 500, 550, 600, 650, 700, 750, 800, 850, 900],
                    "labelExpr": "datum.value % 200 == 0 ? format(datum.value, 'd') : ''",
                    "tickSize": {"condition": {"test": "datum.value % 200 == 0", "value": -5}, "value": -2.5},
                    "titleX": 375.5, "titleY": -8.3, "titleAlign": "center", "titleBaseline": "alphabetic", "titleLineHeight": 21
                  }
                },
                "y": {
                  "field": "m", "type": "quantitative", "title": ["mean shortest", "path length"],
                  "scale": {"domain": [0, 17.12], "nice": false},
                  "axis": {
                    "domain": false, "labelOverlap": false,
                    "values": [0.5, 1, 1.5, 2, 2.5, 3, 3.5, 4, 4.5, 5, 5.5, 6, 6.5, 7, 7.5, 8, 8.5, 9, 9.5, 10, 10.5, 11, 11.5, 12, 12.5, 13, 13.5, 14, 14.5, 15],
                    "labelExpr": "datum.value % 2 == 0 ? format(datum.value, 'd') : ''",
                    "tickSize": {"condition": {"test": "datum.value % 2 == 0", "value": -5}, "value": -2.5},
                    "titleX": -1.5, "titleY": -20, "titleAlign": "center", "titleBaseline": "alphabetic", "titleLineHeight": 21
                  }
                }
              }
            },
            {
              "data": {"name": "paths"},
              "mark": {"type": "rule", "color": "#a9bfdf", "strokeWidth": 1, "opacity": 0.3},
              "encoding": {
                "x": {"field": "L", "type": "quantitative", "axis": null},
                "y": {"field": "l", "type": "quantitative", "axis": null},
                "y2": {"field": "h"}
              }
            },
            {
              "data": {"name": "paths"},
              "mark": {"type": "square", "size": 12, "color": "#5e81b5", "opacity": 1},
              "encoding": {
                "x": {"field": "L", "type": "quantitative", "axis": null},
                "y": {"field": "h", "type": "quantitative", "axis": null}
              }
            },
            {
              "data": {"name": "paths"},
              "mark": {"type": "square", "size": 12, "color": "#8fb032", "opacity": 1},
              "encoding": {
                "x": {"field": "L", "type": "quantitative", "axis": null},
                "y": {"field": "l", "type": "quantitative", "axis": null}
              }
            },
            {
              "data": {"name": "paths"},
              "mark": {"type": "square", "size": 15, "color": "#a0979d", "opacity": 0.75},
              "encoding": {
                "x": {"field": "L", "type": "quantitative", "axis": null},
                "y": {"field": "m", "type": "quantitative", "axis": null}
              }
            },
            {
              "data": {"values": [{}]},
              "mark": {"type": "rule", "color": "#8a8a8a", "strokeWidth": 1},
              "encoding": {
                "x": {"datum": 0, "type": "quantitative", "axis": null},
                "y": {"datum": 0, "type": "quantitative", "axis": null},
                "y2": {"datum": 15.35}
              }
            }
          ]
        }
      ]
    }
  ],
  "config": {
    "font": "Liberation Sans",
    "view": {"stroke": null},
    "axis": {
      "grid": false,
      "domainColor": "#8a8a8a",
      "tickColor": "#8a8a8a",
      "labelColor": "#6e6e6e",
      "labelFontSize": 15,
      "labelFont": "Liberation Sans",
      "labelFlush": false,
      "labelOverlap": false,
      "labelPadding": 13,
      "titleColor": "#555555",
      "titleFontSize": 16,
      "titleFontWeight": "normal",
      "titleFont": "Liberation Sans",
      "titleAngle": 0
    },
    "axisY": {"labelPadding": 11},
    "title": {"fontSize": 18, "fontWeight": "normal", "color": "#4d4d4d", "anchor": "middle", "frame": "group", "font": "Liberation Sans"}
  }
}
